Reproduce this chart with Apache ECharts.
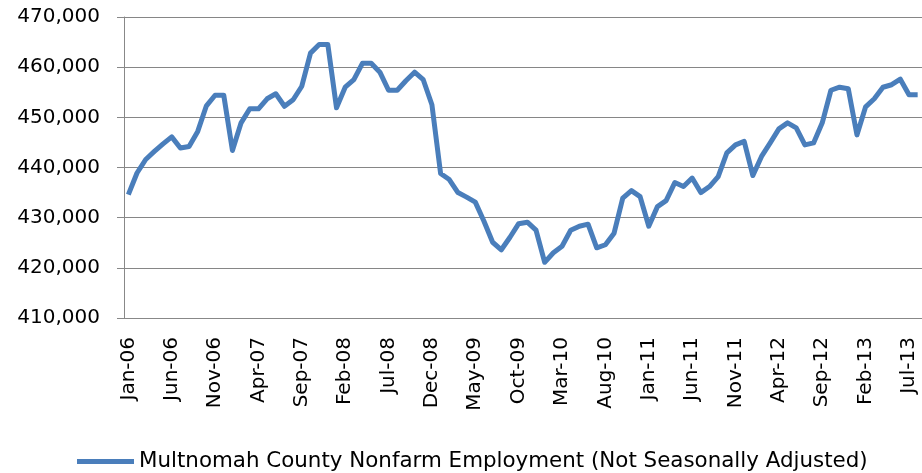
<!DOCTYPE html>
<html>
<head>
<meta charset="utf-8">
<script src="https://cdn.jsdelivr.net/npm/echarts@6/dist/echarts.min.js"></script>
<style>
  html, body { margin: 0; padding: 0; background: #fff; }
  #chart { width: 922px; height: 473px; }
</style>
</head>
<body>
<div id="chart"></div>
<script>
// months, Jan-06 .. Aug-13
const months = [
  'Jan-06','Feb-06','Mar-06','Apr-06','May-06','Jun-06','Jul-06','Aug-06','Sep-06','Oct-06','Nov-06','Dec-06',
  'Jan-07','Feb-07','Mar-07','Apr-07','May-07','Jun-07','Jul-07','Aug-07','Sep-07','Oct-07','Nov-07','Dec-07',
  'Jan-08','Feb-08','Mar-08','Apr-08','May-08','Jun-08','Jul-08','Aug-08','Sep-08','Oct-08','Nov-08','Dec-08',
  'Jan-09','Feb-09','Mar-09','Apr-09','May-09','Jun-09','Jul-09','Aug-09','Sep-09','Oct-09','Nov-09','Dec-09',
  'Jan-10','Feb-10','Mar-10','Apr-10','May-10','Jun-10','Jul-10','Aug-10','Sep-10','Oct-10','Nov-10','Dec-10',
  'Jan-11','Feb-11','Mar-11','Apr-11','May-11','Jun-11','Jul-11','Aug-11','Sep-11','Oct-11','Nov-11','Dec-11',
  'Jan-12','Feb-12','Mar-12','Apr-12','May-12','Jun-12','Jul-12','Aug-12','Sep-12','Oct-12','Nov-12','Dec-12',
  'Jan-13','Feb-13','Mar-13','Apr-13','May-13','Jun-13','Jul-13','Aug-13'
]

// nonfarm employment, not seasonally adjusted
const employment = [
  434600, 438900, 441600, 443200, 444700, 446100, 443900, 444200, 447200, 452300, 454400, 454400,
  443400, 448900, 451700, 451700, 453700, 454700, 452200, 453500, 456200, 462800, 464500, 464500,
  451900, 456000, 457500, 460800, 460800, 459000, 455400, 455400, 457300, 459000, 457500, 452500,
  438800, 437600, 435000, 434100, 433100, 429300, 425100, 423600, 426100, 428800, 429100, 427500,
  421100, 423000, 424300, 427500, 428300, 428700, 424000, 424600, 426900, 433900, 435400, 434200,
  428300, 432200, 433400, 437000, 436200, 437900, 435000, 436200, 438200, 442900, 444500, 445200,
  438400, 442200, 444900, 447700, 448900, 447900, 444500, 444900, 448900, 455400, 456000, 455700,
  446500, 452100, 453700, 456000, 456500, 457600, 454500, 454500
]

const seriesName = 'Multnomah County Nonfarm Employment (Not Seasonally Adjusted)'
const yMin = 410000
const yMax = 470000
const yStep = 10000

const chart = echarts.init(document.getElementById('chart'))

const fmt = v => String(v).replace(/\B(?=(\d{3})+(?!\d))/g, ',')

chart.setOption({
  animation: false,
  textStyle: { fontFamily: 'DejaVu Sans', color: '#000' },
  grid: { left: 124, right: -3, top: 17, bottom: 155 },
  legend: {
    left: 72,
    top: 446,
    itemWidth: 57,
    itemHeight: 24,
    itemGap: 10,
    textStyle: { fontFamily: 'DejaVu Sans', fontSize: 21.4, color: '#000' },
    data: [{ name: seriesName, icon: 'path://M0,11 L57,11 L57,16 L0,16 Z' }]
  },
  xAxis: {
    type: 'category',
    data: months,
    boundaryGap: true,
    axisLine: { lineStyle: { color: '#888', width: 1 } },
    axisTick: { interval: 4, length: 7, lineStyle: { color: '#888' } },
    axisLabel: {
      interval: 4,
      rotate: 90,
      margin: 19,
      fontSize: 20,
      color: '#000'
    },
    splitLine: { show: false }
  },
  yAxis: {
    type: 'value',
    min: yMin,
    max: yMax,
    interval: yStep,
    axisLine: { show: true, lineStyle: { color: '#888', width: 1 } },
    axisTick: { show: true, length: 7, lineStyle: { color: '#888' } },
    axisLabel: {
      margin: 24,
      fontSize: 20,
      color: '#000',
      formatter: fmt
    },
    splitLine: { lineStyle: { color: '#868686', width: 1 } }
  },
  series: [{
    name: seriesName,
    type: 'line',
    data: employment,
    showSymbol: false,
    symbol: 'none',
    lineStyle: { color: '#4a7ebb', width: 5, join: 'round' },
    itemStyle: { color: '#4a7ebb' }
  }]
})
</script>
</body>
</html>
